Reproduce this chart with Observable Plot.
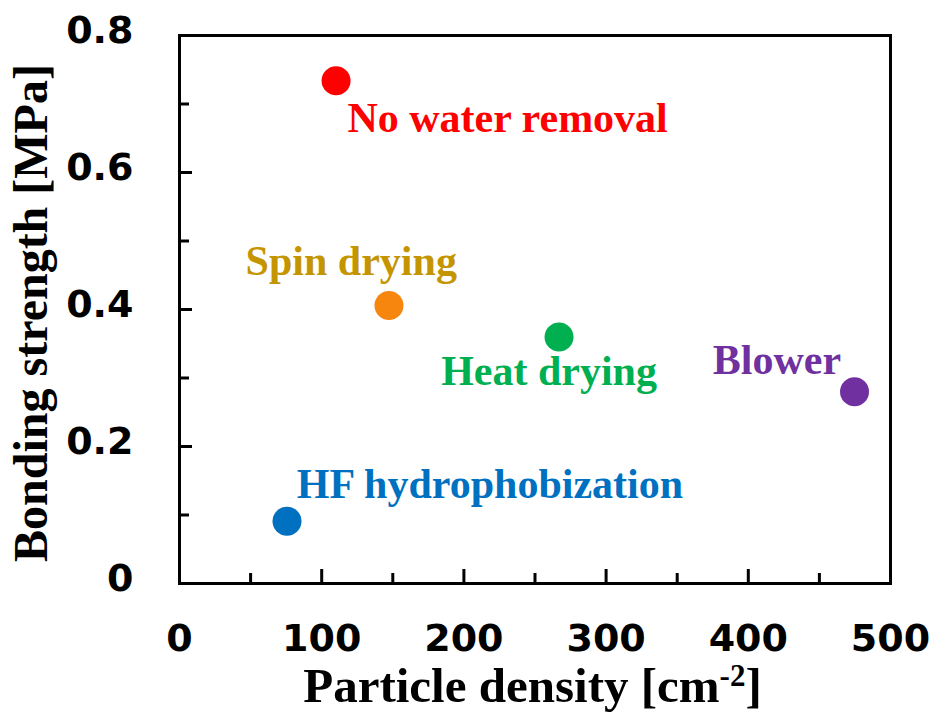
<!DOCTYPE html>
<html><head><meta charset="utf-8">
<script src="https://cdn.jsdelivr.net/npm/d3@7"></script>
<script src="https://cdn.jsdelivr.net/npm/@observablehq/plot@0.6"></script>
<style>body{margin:0;background:#fff}</style>
</head><body><div id="chart"></div>
<script>
const methods = ["No water removal", "Spin drying", "Heat drying", "Blower", "HF hydrophobization"];
const particleDensity = [110.1, 147.3, 266.9, 474.7, 75.6];
const bondingStrength = [0.734, 0.406, 0.360, 0.280, 0.091];
const dotColors = ["#ff0000", "#f7860f", "#00b050", "#7030a0", "#0070c0"];
const labelColors = ["#ff0000", "#c49500", "#00b050", "#7030a0", "#0070c0"];
// label anchor (left edge, vertical middle) in data units
const labelX = [118.1, 46.5, 184, 375, 82.5];
const labelY = [0.679, 0.4707, 0.309, 0.325, 0.144];
const xTicks = [0, 100, 200, 300, 400, 500];
const xMinorTicks = [50, 150, 250, 350, 450];
const yTicks = [0, 0.2, 0.4, 0.6, 0.8];
const yMinorTicks = [0.1, 0.3, 0.5, 0.7];
const yTickLabels = ["0", "0.2", "0.4", "0.6", "0.8"];
const xTitle = "Particle density [cm";
const xTitleSup = "-2";
const xTitleEnd = "]";
const yTitle = "Bonding strength [MPa]";

const rows = methods.map((m, i) => ({
  method: m, x: particleDensity[i], y: bondingStrength[i],
  lx: labelX[i], ly: labelY[i], dot: dotColors[i], lab: labelColors[i]
}));

const sans = "'DejaVu Sans', Verdana, sans-serif";
const serif = "'Liberation Serif', 'Times New Roman', serif";

const plot = Plot.plot({
  width: 934, height: 717,
  marginLeft: 179, marginRight: 44, marginTop: 35, marginBottom: 134,
  x: {domain: [0, 500]},
  y: {domain: [0, 0.8]},
  color: {type: "identity"},
  style: {background: "#fff", overflow: "visible"},
  marks: [
    Plot.axisX(xTicks, {tickSize: -14, strokeWidth: 3, text: null, label: null}),
    Plot.axisX(xMinorTicks, {tickSize: -10, strokeWidth: 3, text: null, label: null}),
    Plot.axisX(xTicks, {tickSize: 0, tickPadding: 41, fontSize: 38, fontWeight: "bold",
      fontFamily: sans, fill: "#000", label: null}),
    Plot.axisY(yTicks, {tickSize: -13, strokeWidth: 3, text: null, label: null}),
    Plot.axisY(yMinorTicks, {tickSize: -10, strokeWidth: 3, text: null, label: null}),
    Plot.axisY(yTicks, {tickSize: 0, tickPadding: 46, fontSize: 38, fontWeight: "bold",
      fontFamily: sans, fill: "#000", dy: -5, label: null,
      tickFormat: d => yTickLabels[yTicks.indexOf(d)]}),
    Plot.frame({stroke: "#000", strokeWidth: 3}),
    Plot.dot(rows, {x: "x", y: "y", r: 14.5, fill: "dot", stroke: null}),
    Plot.text(rows, {x: "lx", y: "ly", text: "method", fill: "lab", textAnchor: "start",
      lineAnchor: "middle", fontSize: 42, fontWeight: "bold", fontFamily: serif})
  ]
});

document.getElementById("chart").appendChild(plot);

const svg = d3.select(plot);
const xs = plot.scale("x"), ys = plot.scale("y");
const cx = (xs.range[0] + xs.range[1]) / 2;
const cy = (ys.range[0] + ys.range[1]) / 2;
const t = svg.append("text")
  .attr("x", cx - 2).attr("y", 702)
  .attr("text-anchor", "middle")
  .attr("font-family", serif).attr("font-weight", "bold").attr("font-size", 49)
  .attr("fill", "#000");
t.append("tspan").text(xTitle);
t.append("tspan").attr("dy", -16).attr("font-size", 31).text(xTitleSup);
t.append("tspan").attr("dy", 16).text(xTitleEnd);

svg.append("text")
  .attr("transform", `translate(47,${cy + 4}) rotate(-90)`)
  .attr("text-anchor", "middle")
  .attr("font-family", serif).attr("font-weight", "bold").attr("font-size", 48)
  .attr("fill", "#000")
  .text(yTitle);
</script>
</body></html>
